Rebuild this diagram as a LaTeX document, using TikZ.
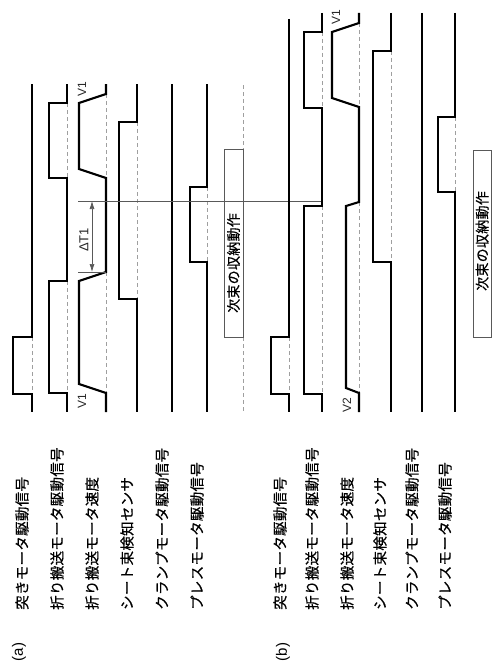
\documentclass[tikz,border=0pt]{standalone}
\usepackage{fontspec}
\setmainfont{Liberation Sans}
\newfontfamily\jp[LetterSpace=2,FakeBold=0.5]{Noto Sans CJK JP}
\usetikzlibrary{arrows.meta}
\tikzset{
  sig/.style={line width=2.1pt, black, line join=miter},
  guide/.style={gray!75, line width=0.6pt, dash pattern=on 4pt off 3pt},
  thinl/.style={black!65, line width=0.7pt},
  lbl/.style={font=\jp\fontsize{14.5}{14.5}\selectfont, rotate=90, anchor=west, inner sep=0pt},
  boxtext/.style={font=\jp\fontsize{14}{14}\selectfont, rotate=90, inner sep=0pt},
  vlab/.style={font=\fontsize{12}{12}\selectfont, rotate=90, inner sep=0pt, text=black!85},
  plab/.style={font=\fontsize{15}{15}\selectfont, rotate=90, inner sep=0pt},
}
\begin{document}
\begin{tikzpicture}[x=1pt, y=-1pt]
\useasboundingbox (0,0) rectangle (492,669);

% ---------------- panel (a) ----------------
% guides
\draw[guide] (32,337) -- (32,394);
\draw[guide] (67,103) -- (67,178);
\draw[guide] (67,281) -- (67,393);
\draw[guide] (106,94) -- (106,178);
\draw[guide] (106,272) -- (106,393);
\draw[guide] (137,122) -- (137,299);
\draw[guide] (207,187) -- (207,262);
\draw[guide] (243,85) -- (243,149);
\draw[guide] (243,337) -- (243,413);

% signals
\draw[sig] (32,84) -- (32,337) -- (13,337) -- (13,394) -- (32,394) -- (32,412);
\draw[sig] (67,84) -- (67,103) -- (49,103) -- (49,178) -- (67,178) -- (67,281) -- (49,281) -- (49,393) -- (67,393) -- (67,412);
\draw[sig] (106,84) -- (106,94) -- (79,103) -- (79,169) -- (106,178) -- (106,272) -- (79,281) -- (79,384) -- (106,393) -- (106,412);
\draw[sig] (137,84) -- (137,122) -- (119,122) -- (119,299) -- (137,299) -- (137,412);
\draw[sig] (172,84) -- (172,412);
\draw[sig] (207,84) -- (207,187) -- (190,187) -- (190,262) -- (207,262) -- (207,412);

% box (a)
\draw[thinl] (224,149) rectangle (243,337);
\node[boxtext] (boxa) at (233.5,263) {次束の収納動作};

% reference line and Delta T1
\coordinate (hl0) at (78,201);
\coordinate (hl1) at (322,201);
\draw[thinl] (hl0) -- (hl1);
\coordinate (ex0) at (78,272);
\coordinate (ex1) at (106,272);
\draw[thinl] (ex0) -- (ex1);
\coordinate (ar0) at (92,201);
\coordinate (ar1) at (92,272);
\draw[thinl, {Latex[length=8pt,width=5pt]}-{Latex[length=8pt,width=5pt]}] (ar0) -- (ar1);
\node[vlab, font=\fontsize{13}{13}\selectfont] (dt1) at (84,240) {ΔT1};

\node[vlab] (v1at) at (82,89) {V1};
\node[vlab] (v1ab) at (82,401) {V1};

% labels (a)
\node[plab] (pa) at (19,652) {(a)};
\node[lbl] (la1) at (22,610) {突きモータ駆動信号};
\node[lbl] (la2) at (57,610) {折り搬送モータ駆動信号};
\node[lbl] (la3) at (92,610) {折り搬送モータ速度};
\node[lbl] (la4) at (127,610) {シート束検知センサ};
\node[lbl] (la5) at (162,610) {クランプモータ駆動信号};
\node[lbl] (la6) at (197,610) {プレスモータ駆動信号};

% ---------------- panel (b) ----------------
\draw[guide] (289,337) -- (289,394);
\draw[guide] (322,32) -- (322,108);
\draw[guide] (322,206) -- (322,394);
\draw[guide] (359,23) -- (359,107);
\draw[guide] (359,202) -- (359,393);
\draw[guide] (391,51) -- (391,262);
\draw[guide] (455,117) -- (455,192);

\draw[sig] (289,19) -- (289,337) -- (271,337) -- (271,394) -- (289,394) -- (289,412);
\draw[sig] (322,13) -- (322,32) -- (304,32) -- (304,108) -- (322,108) -- (322,206) -- (304,206) -- (304,394) -- (322,394) -- (322,412);
\draw[sig] (359,13) -- (359,23) -- (332,32) -- (332,98) -- (359,107) -- (359,202) -- (346,206) -- (346,388) -- (359,393) -- (359,412);
\draw[sig] (391,13) -- (391,51) -- (373,51) -- (373,262) -- (391,262) -- (391,412);
\draw[sig] (422,13) -- (422,412);
\draw[sig] (455,13) -- (455,117) -- (438,117) -- (438,192) -- (455,192) -- (455,412);

\draw[thinl] (473,150) rectangle (491.4,337);
\node[boxtext] (boxb) at (482.2,241) {次束の収納動作};

\node[vlab] (v1bt) at (336,17) {V1};
\node[vlab] (v2bb) at (347,405) {V2};

\node[plab] (pb) at (283,652) {(b)};
\node[lbl] (lb1) at (280,610) {突きモータ駆動信号};
\node[lbl] (lb2) at (312,610) {折り搬送モータ駆動信号};
\node[lbl] (lb3) at (347,610) {折り搬送モータ速度};
\node[lbl] (lb4) at (380,610) {シート束検知センサ};
\node[lbl] (lb5) at (412,610) {クランプモータ駆動信号};
\node[lbl] (lb6) at (445,610) {プレスモータ駆動信号};
\end{tikzpicture}
\end{document}
